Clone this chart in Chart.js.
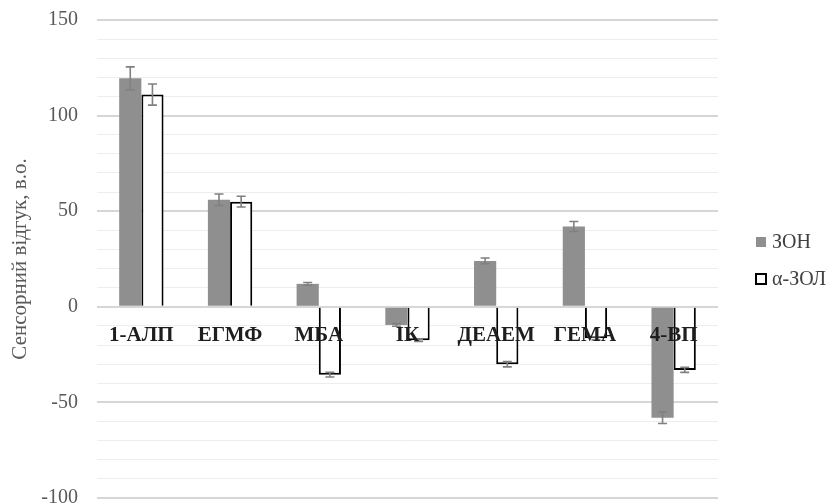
<!DOCTYPE html>
<html>
<head>
<meta charset="utf-8">
<script src="https://cdn.jsdelivr.net/npm/chart.js@4/dist/chart.umd.min.js"></script>
<style>
  html, body { margin: 0; padding: 0; background: #ffffff; }
  #wrap { width: 834px; height: 504px; }
</style>
</head>
<body>
<div id="wrap"><canvas id="c" width="834" height="504"></canvas></div>
<script>
// Analytes on the category axis
const categories = ['1-АЛП', 'ЕГМФ', 'МБА', 'ІК', 'ДЕАЕМ', 'ГЕМА', '4-ВП'];

// Sensor response, arb. units, and their standard deviations
const seriesNames = ['ЗОН', 'α-ЗОЛ'];
const zonValues = [119.5, 56, 12, -9.5, 24, 42, -58];
const zonErrors = [6, 3, 0.7, 0.7, 1.5, 2.6, 3];
const zolValues = [111, 55, -35.5, -17.5, -30, -16.5, -33];
const zolErrors = [5.5, 2.8, 1.2, 0.6, 1.4, 0.8, 1.3];

// Value axis ticks that carry labels
const axisMin = -100;
const axisMax = 150;
const labelledTicks = [-100, -50, 0, 50, 100, 150];
const axisTitle = 'Сенсорний відгук, в.о.';

const serif = "'Liberation Serif', 'Times New Roman', serif";
const GRAY = '#8f8f8f';

// Vertical error bars with caps, one per bar
const errorBars = {
  id: 'errorBars',
  afterDatasetsDraw(chart) {
    const ctx = chart.ctx;
    const y = chart.scales.y;
    chart.data.datasets.forEach((ds, di) => {
      const meta = chart.getDatasetMeta(di);
      if (meta.hidden) return;
      meta.data.forEach((bar, i) => {
        const v = ds.data[i], e = ds.errors[i];
        const yHi = y.getPixelForValue(v + e);
        const yLo = y.getPixelForValue(v - e);
        const x = bar.x;
        const cap = 4.5;
        ctx.save();
        ctx.strokeStyle = '#808080';
        ctx.lineWidth = 1.6;
        ctx.beginPath();
        ctx.moveTo(x, yHi); ctx.lineTo(x, yLo);
        ctx.moveTo(x - cap, yHi); ctx.lineTo(x + cap, yHi);
        ctx.moveTo(x - cap, yLo); ctx.lineTo(x + cap, yLo);
        ctx.stroke();
        ctx.restore();
      });
    });
  }
};

// Legend to the right of the plot
const sideLegend = {
  id: 'sideLegend',
  afterDraw(chart) {
    const ctx = chart.ctx;
    const a = chart.chartArea;
    const x0 = a.right + 38;
    const midY = (a.top + a.bottom) / 2;
    const rows = [midY - 17, midY + 20];
    ctx.save();
    ctx.font = '20px ' + serif;
    ctx.textBaseline = 'middle';
    chart.data.datasets.forEach((ds, i) => {
      const cy = rows[i];
      if (i === 0) {
        ctx.fillStyle = ds.backgroundColor;
        ctx.fillRect(x0, cy - 5, 10, 10);
      } else {
        ctx.fillStyle = '#ffffff';
        ctx.fillRect(x0, cy - 5, 10, 10);
        ctx.strokeStyle = '#000000';
        ctx.lineWidth = 2;
        ctx.strokeRect(x0, cy - 5, 10, 10);
      }
      ctx.fillStyle = '#404040';
      ctx.fillText(ds.label, x0 + 16, cy + 1);
    });
    ctx.restore();
  }
};

new Chart(document.getElementById('c'), {
  type: 'bar',
  data: {
    labels: categories,
    datasets: [
      {
        label: seriesNames[0],
        data: zonValues,
        errors: zonErrors,
        backgroundColor: GRAY,
        borderWidth: 0,
        categoryPercentage: 0.5,
        barPercentage: 1.0
      },
      {
        label: seriesNames[1],
        data: zolValues,
        errors: zolErrors,
        backgroundColor: '#ffffff',
        borderColor: '#000000',
        borderWidth: 2,
        categoryPercentage: 0.5,
        barPercentage: 1.0
      }
    ]
  },
  options: {
    responsive: false,
    animation: false,
    layout: { padding: { left: 0, top: 20, right: 116, bottom: 6 } },
    plugins: {
      legend: { display: false },
      tooltip: { enabled: false }
    },
    scales: {
      x: {
        position: { y: 0 },
        grid: { display: false, drawTicks: false },
        border: { display: false },
        ticks: {
          z: 1,
          font: { family: serif, size: 21, weight: 'bold' },
          color: '#1e1e1e',
          padding: 16,
          maxRotation: 0,
          autoSkip: false
        },
        afterFit(s) { s.height = 0; s.paddingLeft = 0; s.paddingRight = 0; }
      },
      y: {
        min: axisMin,
        max: axisMax,
        border: { display: false },
        grid: {
          drawTicks: false,
          color: c => (labelledTicks.includes(c.tick.value) ? '#d6d6d6' : '#ededed'),
          lineWidth: c => (labelledTicks.includes(c.tick.value) ? 2 : 1)
        },
        ticks: {
          stepSize: 10,
          autoSkip: false,
          padding: 19,
          color: '#595959',
          font: { family: serif, size: 20 },
          callback: v => (labelledTicks.includes(v) ? String(v) : '')
        },
        title: {
          display: true,
          text: axisTitle,
          color: '#595959',
          font: { family: serif, size: 21 },
          padding: { top: 8, bottom: 0 }
        },
        afterFit(s) { s.width = 97; s.paddingTop = 0; s.paddingBottom = 0; }
      }
    }
  },
  plugins: [errorBars, sideLegend]
});
</script>
</body>
</html>
